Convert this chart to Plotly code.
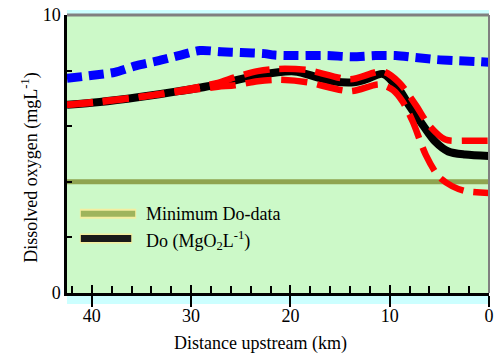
import plotly.graph_objects as go

# ---------------- data ----------------
x_ticks = [0, 10, 20, 30, 40]
y_ticks = [0, 2, 4, 6, 8, 10]
y_tick_text = ["0", "", "", "", "", "10"]

min_do_km = [42.5, 0]
min_do_val = [4.0, 4.0]

blue_km = [42.5, 39.9, 37.7, 35.5, 33.25, 31.25, 29.1, 27.0, 25.0, 22.6, 21.6,
           19.3, 16.3, 13.8, 11.4, 9.4, 7.4, 5.4, 3.4, 1.4, 0.0]
blue_val = [7.72, 7.83, 7.94, 8.18, 8.36, 8.54, 8.72, 8.68, 8.65, 8.61, 8.56,
            8.54, 8.54, 8.50, 8.54, 8.54, 8.47, 8.40, 8.36, 8.33, 8.30]

do_km = [42.5, 39.2, 35.2, 31.25, 27.3, 23.3, 19.6, 17.3, 15.6, 13.6, 12.35,
         10.7, 9.07, 8.07, 6.68, 5.4, 4.1, 2.4, 0.0]
do_val = [6.77, 6.87, 7.05, 7.26, 7.50, 7.83, 7.97, 7.76, 7.61, 7.58, 7.69,
          7.88, 7.33, 6.76, 6.05, 5.44, 5.09, 4.98, 4.93]

upper_km = [42.5, 39.2, 35.2, 31.25, 27.3, 25.6, 23.3, 21.3, 18.3, 14.0,
            10.7, 9.07, 7.37, 6.08, 4.4, 2.4, 0.0]
upper_val = [6.77, 6.87, 7.05, 7.28, 7.56, 7.76, 7.98, 8.06, 8.02, 7.69,
             7.97, 7.58, 6.76, 6.05, 5.52, 5.48, 5.48]

lower_km = [42.5, 35.2, 31.25, 27.3, 25.6, 23.3, 21.3, 18.3, 14.0, 11.05, 9.66,
            8.67, 7.67, 6.38, 5.09, 3.7, 2.4, 0.0]
lower_val = [6.77, 7.05, 7.24, 7.42, 7.47, 7.62, 7.67, 7.58, 7.26, 7.50, 7.30,
             6.87, 6.16, 4.98, 4.20, 3.84, 3.67, 3.60]

FONT = "Liberation Serif, Times New Roman, serif"

fig = go.Figure()
fig.add_trace(go.Scatter(x=min_do_km, y=min_do_val, mode="lines",
                         name="Minimum Do-data", showlegend=False,
                         line=dict(color="#8fa450", width=5)))
fig.add_trace(go.Scatter(x=blue_km, y=blue_val, mode="lines", showlegend=False,
                         line=dict(color="#0000ff", width=9, dash="15px,7px",
                                   shape="spline", smoothing=0.8)))
fig.add_trace(go.Scatter(x=do_km, y=do_val, mode="lines", name="Do",
                         showlegend=False,
                         line=dict(color="#000000", width=8, shape="spline",
                                   smoothing=0.8)))
fig.add_trace(go.Scatter(x=upper_km, y=upper_val, mode="lines", showlegend=False,
                         line=dict(color="#ff0000", width=6.5, dash="26px,10px",
                                   shape="spline", smoothing=0.8)))
fig.add_trace(go.Scatter(x=lower_km, y=lower_val, mode="lines", showlegend=False,
                         line=dict(color="#ff0000", width=6.5, dash="26px,10px",
                                   shape="spline", smoothing=0.8)))
# invisible trace on overlay axis for inside major ticks
fig.add_trace(go.Scatter(x=[42.5, 0], y=[0, 0], xaxis="x2", mode="lines",
                         line=dict(width=0), hoverinfo="skip", showlegend=False))

H_PLOT = 281.0
W_PLOT = 427.0

shapes = [
    # cyan backdrop
    dict(type="rect", xref="paper", yref="paper", x0=0, x1=1.0,
         y0=-11 / H_PLOT, y1=1 + 5 / H_PLOT, fillcolor="#ccffff",
         line=dict(width=0), layer="below"),
    # green plot area
    dict(type="rect", xref="paper", yref="paper", x0=0, x1=1, y0=0, y1=1,
         fillcolor="#ccf9c8", line=dict(width=0), layer="below"),
    # top gray border
    dict(type="line", xref="paper", yref="paper", x0=0, x1=1, y0=1, y1=1,
         line=dict(color="#808080", width=3)),
    # right gray border
    dict(type="line", xref="paper", yref="paper", x0=1, x1=1, y0=0, y1=1,
         line=dict(color="#808080", width=2)),
    # legend samples
    dict(type="line", xref="paper", yref="paper",
         x0=(80 - 67) / W_PLOT, x1=(137 - 67) / W_PLOT,
         y0=(293 - 213) / H_PLOT, y1=(293 - 213) / H_PLOT,
         line=dict(color="#f4eea0", width=10)),
    dict(type="line", xref="paper", yref="paper",
         x0=(81 - 67) / W_PLOT, x1=(136 - 67) / W_PLOT,
         y0=(293 - 213) / H_PLOT, y1=(293 - 213) / H_PLOT,
         line=dict(color="#9fb45c", width=6)),
    dict(type="line", xref="paper", yref="paper",
         x0=(80 - 67) / W_PLOT, x1=(133 - 67) / W_PLOT,
         y0=(293 - 238) / H_PLOT, y1=(293 - 238) / H_PLOT,
         line=dict(color="#f4eea0", width=10)),
    dict(type="line", xref="paper", yref="paper",
         x0=(81 - 67) / W_PLOT, x1=(132 - 67) / W_PLOT,
         y0=(293 - 238) / H_PLOT, y1=(293 - 238) / H_PLOT,
         line=dict(color="#1a1a1a", width=7)),
]

annotations = [
    dict(text="Minimum Do-data", xref="paper", yref="paper",
         x=(145 - 67) / W_PLOT, y=(293 - 213) / H_PLOT, xanchor="left",
         yanchor="middle", showarrow=False, font=dict(family=FONT, size=18, color="black")),
    dict(text="Do (MgO<sub>2</sub>L<sup>-1</sup>)", xref="paper", yref="paper",
         x=(145 - 67) / W_PLOT, y=(293 - 240) / H_PLOT, xanchor="left",
         yanchor="middle", showarrow=False, font=dict(family=FONT, size=18, color="black")),
    dict(text="Distance upstream (km)", xref="paper", yref="paper",
         x=(263 - 67) / W_PLOT, y=(293 - 344) / H_PLOT, xanchor="center",
         yanchor="middle", showarrow=False, font=dict(family=FONT, size=18, color="black")),
    dict(text="Dissolved oxygen (mgL<sup>-1</sup>)", xref="paper", yref="paper",
         x=(30 - 67) / W_PLOT, y=(293 - 166) / H_PLOT, xanchor="center",
         yanchor="middle", textangle=-90, showarrow=False,
         font=dict(family=FONT, size=18, color="black")),
]

fig.update_layout(
    width=499, height=356,
    margin=dict(l=67, r=5, t=12, b=63),
    paper_bgcolor="white",
    plot_bgcolor="rgba(0,0,0,0)",
    showlegend=False,
    shapes=shapes,
    annotations=annotations,
    font=dict(family=FONT, size=18, color="black"),
    xaxis=dict(range=[42.5, 0], showgrid=False, zeroline=False,
               showline=True, linecolor="black", linewidth=2.5,
               tickvals=x_ticks, ticks="outside", ticklen=11, tickwidth=2,
               tickcolor="black", ticklabelstandoff=-6,
               tickfont=dict(family=FONT, size=18, color="black"),
               minor=dict(dtick=2, ticks="inside", ticklen=7, tickwidth=1.5,
                          tickcolor="black", showgrid=False)),
    xaxis2=dict(range=[42.5, 0], overlaying="x", anchor="y", side="bottom",
                showgrid=False, zeroline=False, showline=False,
                tickvals=x_ticks, ticks="inside", ticklen=8, tickwidth=2,
                tickcolor="black", showticklabels=False),
    yaxis=dict(range=[0, 10], showgrid=False, zeroline=False,
               showline=True, linecolor="black", linewidth=2.5,
               tickvals=y_ticks, ticktext=y_tick_text, ticks="inside",
               ticklen=5, tickwidth=2, tickcolor="black",
               tickfont=dict(family=FONT, size=18, color="black")),
)

fig.write_html("out.html", config={"displayModeBar": False},
               post_script="document.body.style.margin='0';document.body.style.overflow='hidden';")
